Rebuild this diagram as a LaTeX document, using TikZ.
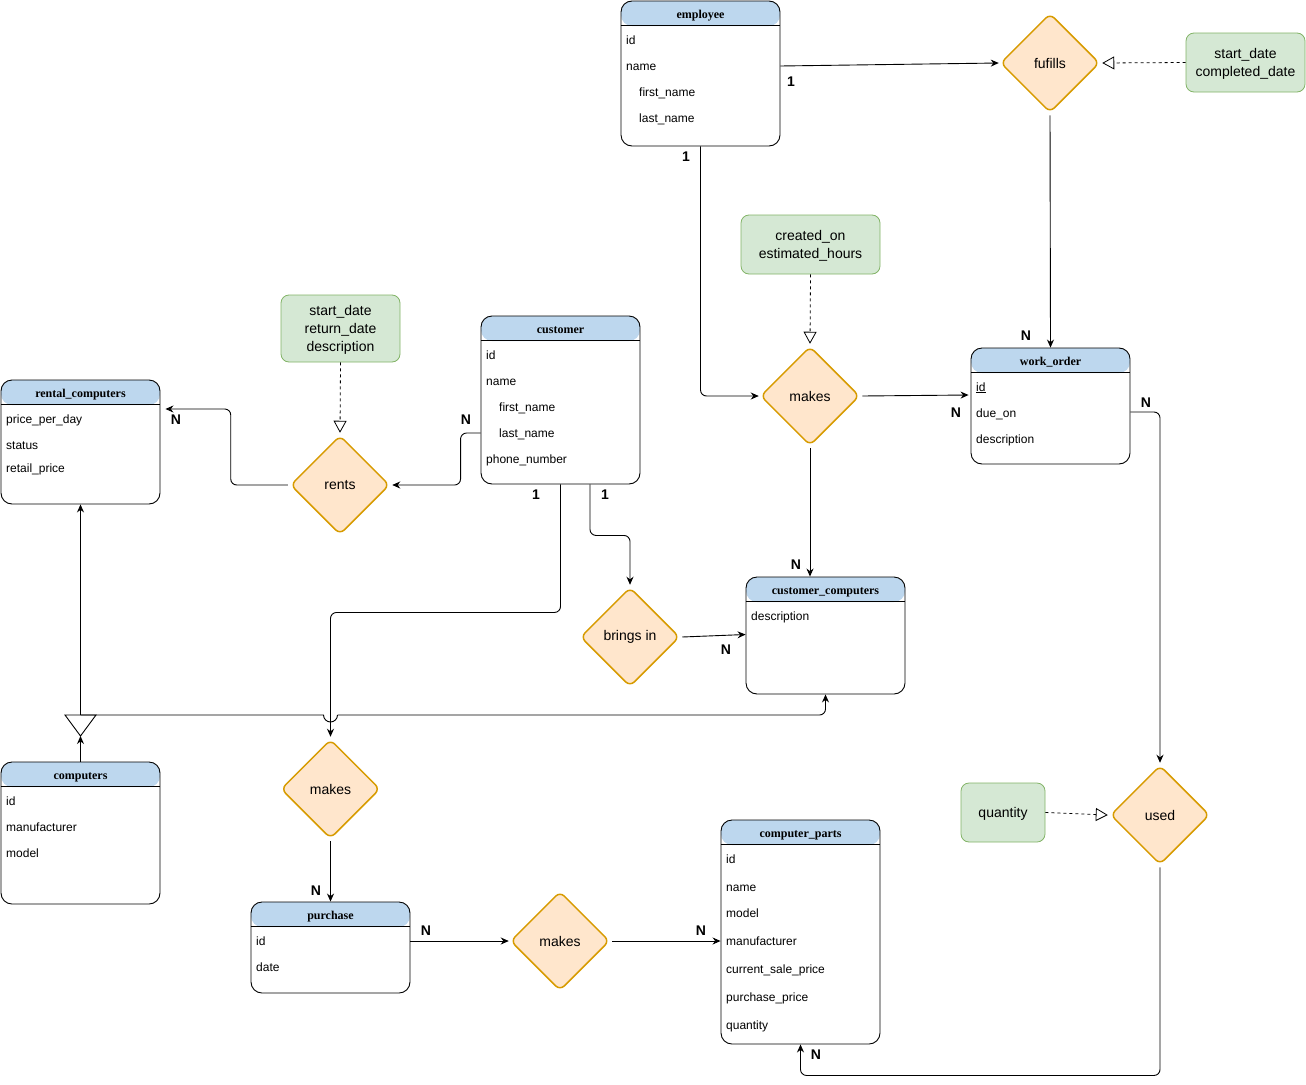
\documentclass[tikz,border=0pt]{standalone}
\usepackage{fontspec}
\setmainfont{Liberation Sans}
\newfontfamily\serifttl{Liberation Serif}
\usetikzlibrary{shapes.geometric,arrows.meta}
\definecolor{hdr}{RGB}{189,215,238}
\definecolor{relfill}{HTML}{FFE6CC}
\definecolor{relline}{HTML}{D79B00}
\definecolor{attfill}{HTML}{D5E8D4}
\definecolor{attline}{HTML}{82B366}
\newcommand{\entitybox}[5]{%
  \node[entity, minimum height=#4] (#1) at (#2,#3) {};
  \node[etitle] (#1-t) at ([yshift=-15.5pt]#1.north) {#5};
  \draw[line width=0.9pt] ([yshift=-25pt]#1.north west) -- ([yshift=-25pt]#1.north east);}
\begin{document}
\begin{tikzpicture}[x=1pt,y=-1pt,
  entity/.style={draw, rounded corners=11pt, minimum width=159pt, inner sep=0pt, line width=0.9pt,
    path picture={\fill[hdr] (path picture bounding box.north west) rectangle ([yshift=-25pt]path picture bounding box.north east);}},
  etitle/.style={font=\serifttl\bfseries\fontsize{12}{14}\selectfont, inner sep=0pt, text height=8pt, text depth=3pt},
  attr/.style={anchor=west, font=\fontsize{12}{14}\selectfont, inner sep=0pt, text height=8pt, text depth=4pt, yshift=-2pt},
  card/.style={font=\bfseries\fontsize{14}{16}\selectfont, inner sep=0pt},
  rel/.style={diamond, shape aspect=1, draw=relline, fill=relfill, line width=1.5pt, rounded corners=6pt,
    minimum width=99pt, minimum height=99pt, inner sep=0pt, font=\fontsize{14}{16}\selectfont},
  attbox/.style={draw=attline, fill=attfill, rounded corners=8pt, align=center, line width=0.8pt,
    font=\fontsize{14}{18}\selectfont, inner sep=0pt, text depth=0.5pt},
  conn/.style={line width=0.9pt, -{Stealth[length=8pt,width=7pt]}, rounded corners=6pt},
  dconn/.style={line width=0.8pt, dash pattern=on 3pt off 3pt, -{Triangle[open,length=12pt,width=13pt]}}]
\useasboundingbox (0,0) rectangle (1306,1084);

% ---------- entities ----------
\entitybox{emp}{700.5}{73.5}{145}{employee}
\node[attr] (emp-a1) at (626,40) {id};
\node[attr] (emp-a2) at (626,66) {name};
\node[attr] (emp-a3) at (639,92) {first\_name};
\node[attr] (emp-a4) at (639,118) {last\_name};

\entitybox{cust}{560.5}{400}{168}{customer}
\node[attr] (cust-a1) at (486,355) {id};
\node[attr] (cust-a2) at (486,381) {name};
\node[attr] (cust-a3) at (499,407) {first\_name};
\node[attr] (cust-a4) at (499,433) {last\_name};
\node[attr] (cust-a5) at (486,459) {phone\_number};

\entitybox{rent}{80.5}{442}{124}{rental\_computers}
\node[attr] (rent-a1) at (6,419) {price\_per\_day};
\node[attr] (rent-a2) at (6,445) {status};
\node[attr] (rent-a3) at (6,468) {retail\_price};

\entitybox{wo}{1050.5}{406}{116}{work\_order}
\node[attr] (wo-a1) at (976,387) {\underline{id}};
\node[attr] (wo-a2) at (976,413) {due\_on};
\node[attr] (wo-a3) at (976,439) {description};

\entitybox{cc}{825.5}{635.5}{117}{customer\_computers}
\node[attr] (cc-a1) at (751,616) {description};

\entitybox{comp}{80.5}{833}{142}{computers}
\node[attr] (comp-a1) at (6,801) {id};
\node[attr] (comp-a2) at (6,827) {manufacturer};
\node[attr] (comp-a3) at (6,853) {model};

\entitybox{pur}{330.5}{947.5}{91}{purchase}
\node[attr] (pur-a1) at (256,941) {id};
\node[attr] (pur-a2) at (256,967) {date};

\entitybox{cp}{800.5}{932}{224}{computer\_parts}
\node[attr] (cp-a1) at (726,859) {id};
\node[attr] (cp-a2) at (726,887) {name};
\node[attr] (cp-a3) at (726,913) {model};
\node[attr] (cp-a4) at (726,941) {manufacturer};
\node[attr] (cp-a5) at (726,969) {current\_sale\_price};
\node[attr] (cp-a6) at (726,997) {purchase\_price};
\node[attr] (cp-a7) at (726,1025) {quantity};

% ---------- relationships ----------
\node[rel] (fuf) at (1050,63) {fufills};
\node[rel] (mk1) at (810,396) {makes};
\node[rel] (rents) at (340,485) {rents};
\node[rel] (bi) at (630,637) {brings in};
\node[rel] (mk2) at (330.5,789) {makes};
\node[rel] (mk3) at (560,941) {makes};
\node[rel] (used) at (1160,815) {used};

% ---------- relationship attributes ----------
\node[attbox, minimum width=119pt, minimum height=59pt] (fa) at (1245.5,62.5) {start\_date\\completed\_date};
\node[attbox, minimum width=139pt, minimum height=59pt] (ca) at (810.5,244.5) {created\_on\\estimated\_hours};
\node[attbox, minimum width=119pt, minimum height=67pt] (ra) at (340.5,328.5) {start\_date\\return\_date\\description};
\node[attbox, minimum width=84pt, minimum height=59pt] (qa) at (1003,812.5) {quantity};

\draw[dconn] (fa.west) -- ([xshift=2pt]fuf.east);
\draw[dconn] (ca.south) -- ([yshift=2pt]mk1.north);
\draw[dconn] (ra.south) -- ([yshift=2pt]rents.north);
\draw[dconn] (qa.east) -- ([xshift=-2pt]used.west);

% ---------- connectors ----------
\draw[conn] ([yshift=7.5pt]emp.east) -- ([xshift=-1pt]fuf.west);
\draw[conn] ([yshift=-2pt]fuf.south) -- (wo.north);
\draw[conn] (emp.south) |- ([xshift=-1pt]mk1.west);
\draw[conn] ([xshift=2pt]mk1.east) -- ([xshift=-2pt,yshift=11pt]wo.west);
\draw[conn] ([yshift=-2pt]mk1.south) -- (mk1.south |- cc.north);
\draw[conn] ([yshift=-6pt]wo.east) -| ([yshift=2pt]used.north);
\draw[conn] ([yshift=-2pt]used.south) |- ([yshift=-31pt]cp.south) -- (cp.south);
\draw[conn] ([yshift=-33pt]cust.west) -- ++(-20,0) |- ([xshift=2pt]rents.east);
\draw[conn] ([xshift=-2pt]rents.west) -- ++(-57,0) |- ([xshift=5pt,yshift=33pt]rent.east);
\draw[conn] ([xshift=29.5pt]cust.south) -- ++(0,51) -| ([yshift=2pt]bi.north);
\draw[conn] ([xshift=2pt]bi.east) -- ([yshift=1pt]cc.west);
\draw[conn] (cust.south) -- ++(0,128) -| ([yshift=2pt]mk2.north);
\draw[conn] ([yshift=-2pt]mk2.south) -- (pur.north);
\draw[conn] ([yshift=6.5pt]pur.east) -- ([xshift=-1pt]mk3.west);
\draw[conn] ([xshift=2pt]mk3.east) -- ([yshift=-9pt]cp.west);

% inheritance
\coordinate (tri) at (80.5,715);
\coordinate (trib) at (80.5,736);
\draw[line width=0.9pt, fill=white] (65,715) -- (96,715) -- (trib) -- cycle;
\draw[conn] (comp.north) -- (trib);
\draw[conn] (tri) -- (rent.south);
\draw[line width=0.9pt] (tri) -- (323.5,715) arc[start angle=180, end angle=0, radius=7];
\draw[conn] (337.5,715) -- (cc.south |- tri) -- (cc.south);

% ---------- cardinalities ----------
\node[card] (k1) at (791,82) {1};
\node[card] (k2) at (686,157) {1};
\node[card] (k3) at (1026,336) {N};
\node[card] (k4) at (956,413) {N};
\node[card] (k5) at (1146,403) {N};
\node[card] (k6) at (796,565) {N};
\node[card] (k7) at (466,420) {N};
\node[card] (k8) at (176,420) {N};
\node[card] (k9) at (536,495) {1};
\node[card] (k10) at (605,495) {1};
\node[card] (k11) at (726,650) {N};
\node[card] (k12) at (316,891) {N};
\node[card] (k13) at (426,931) {N};
\node[card] (k14) at (701,931) {N};
\node[card] (k15) at (816,1055) {N};
\end{tikzpicture}
\end{document}
